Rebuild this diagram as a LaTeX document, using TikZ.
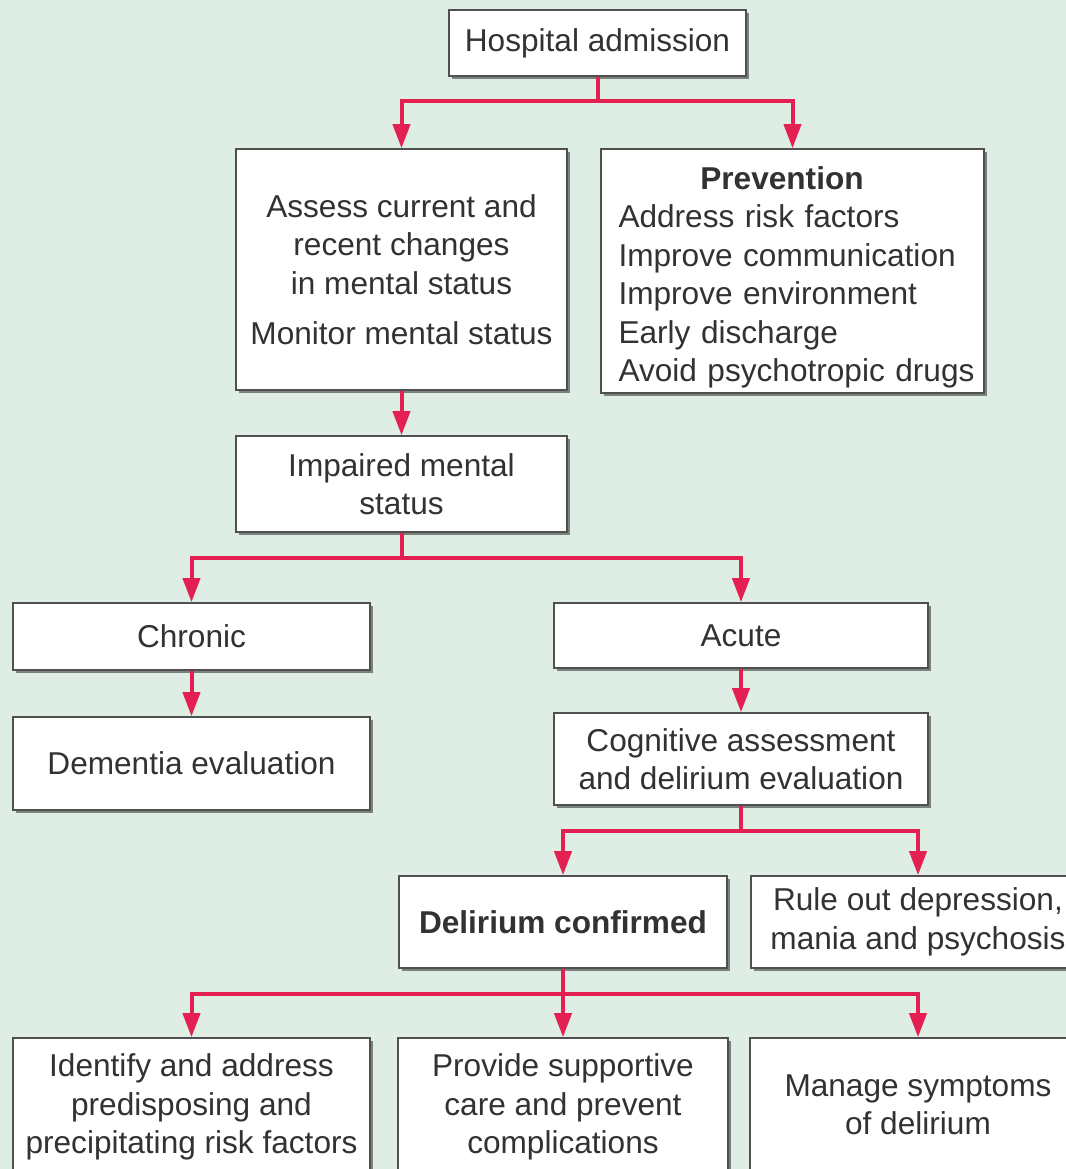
\documentclass[tikz,border=0pt]{standalone}
\usepackage{fontspec}
\setmainfont{Liberation Sans}
\usetikzlibrary{arrows.meta,shadows}
\definecolor{bgmint}{RGB}{223,238,229}
\definecolor{linkred}{RGB}{228,32,82}
\definecolor{boxline}{RGB}{80,80,80}
\definecolor{txtgray}{RGB}{50,50,50}

\begin{document}
\begin{tikzpicture}[x=0.5pt, y=-0.5pt,
  box/.style={draw=boxline, line width=0.8pt, fill=white, text=txtgray, align=center, inner sep=2pt,
    font=\fontsize{15.8}{19.25}\selectfont,
    drop shadow={shadow xshift=1.5pt, shadow yshift=-1.5pt, fill=black, opacity=0.45}},
  link/.style={linkred, line width=2pt},
  arr/.style={link, -{Triangle[length=12pt,width=8.5pt]}}]
\fill[bgmint] (0,0) rectangle (1066,1169);
\useasboundingbox (0,0) rectangle (1066,1169);

\node[box, minimum width=148.5pt, minimum height=33pt] (hosp) at (597.5,43) {Hospital admission};
\node[box, minimum width=165.5pt, minimum height=120.5pt] (assess) at (401.5,269.5)
  {Assess current and\\recent changes\\in mental status\\[6pt]Monitor mental status};
\node[box, minimum width=191.5pt, minimum height=122pt, inner sep=0pt, text width=183pt, align=left] (prev) at (792.5,271)
  {{\centering\rule{0pt}{17.8pt}\textbf{Prevention}\kern10.5pt\par}\leftskip=4.5pt
   Address risk factors\\Improve communication\\Improve environment\\Early discharge\\Avoid psychotropic drugs\par};
\node[box, minimum width=165.5pt, minimum height=48pt] (impair) at (401.5,484) {Impaired mental\\status};
\node[box, minimum width=178.5pt, minimum height=33.5pt] (chron) at (191.5,636.5) {Chronic};
\node[box, minimum width=187pt, minimum height=32.5pt] (acute) at (741,635.5) {Acute};
\node[box, minimum width=178.5pt, minimum height=46.5pt] (dement) at (191.5,763.5) {Dementia evaluation};
\node[box, minimum width=187pt, minimum height=46pt] (cognit) at (741,759) {Cognitive assessment\\and delirium evaluation};
\node[box, minimum width=164pt, minimum height=46pt] (delir) at (563,922) {\textbf{Delirium confirmed}};
\node[box, minimum width=167pt, minimum height=46pt] (ruleout) at (918,922) {Rule out depression,\\mania and psychosis};
\node[box, minimum width=178.5pt, minimum height=69pt] (ident) at (191.5,1107)
  {Identify and address\\predisposing and\\precipitating risk factors};
\node[box, minimum width=165pt, minimum height=69pt] (suppcare) at (563,1107)
  {Provide supportive\\care and prevent\\complications};
\node[box, minimum width=168pt, minimum height=67pt] (symptoms) at (918,1105) {Manage symptoms\\of delirium};

\draw[link] (hosp.south) -- ++(0,24) coordinate (split1);
\draw[arr] (split1) -| (assess.north);
\draw[arr] (split1) -| (prev.north);
\draw[arr] (assess) -- (impair);
\draw[link] (impair.south) -- ++(0,25) coordinate (split2);
\draw[arr] (split2) -| (chron.north);
\draw[arr] (split2) -| (acute.north);
\draw[arr] (chron) -- (dement);
\draw[arr] (acute) -- (cognit);
\draw[link] (cognit.south) -- ++(0,25) coordinate (split3);
\draw[arr] (split3) -| (delir.north);
\draw[arr] (split3) -| (ruleout.north);
\draw[link] (delir.south) -- ++(0,25) coordinate (split4);
\draw[arr] (split4) -| (ident.north);
\draw[arr] (split4) -- (suppcare.north);
\draw[arr] (split4) -| (symptoms.north);
\end{tikzpicture}
\end{document}
